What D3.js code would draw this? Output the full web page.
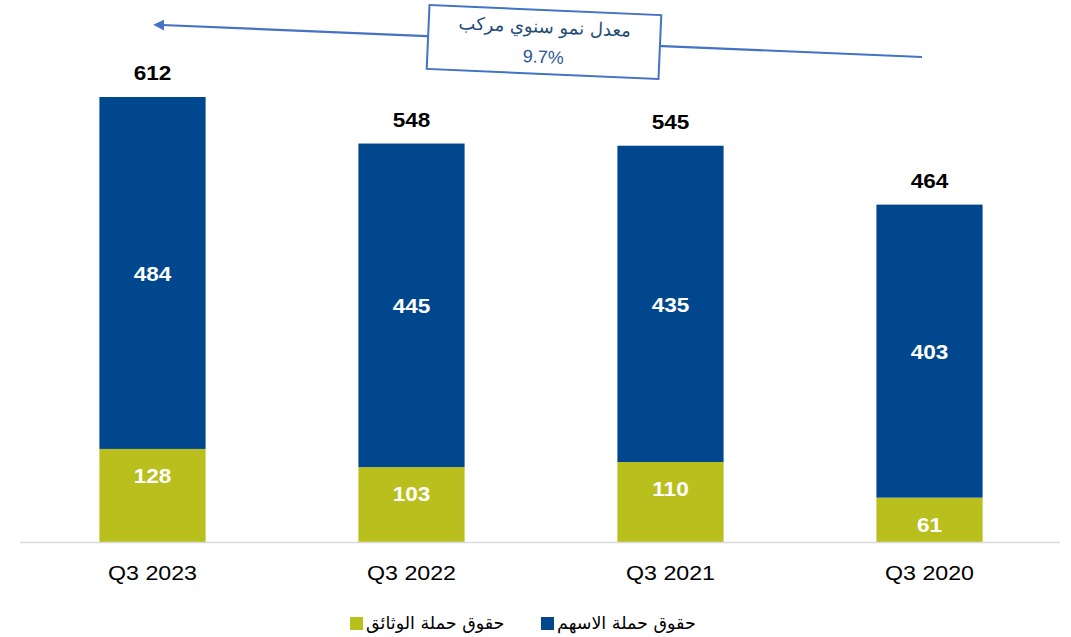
<!DOCTYPE html>
<html lang="ar">
<head>
<meta charset="utf-8">
<style>
html, body {
    margin: 0;
    padding: 0;
    background: #fff;
}
svg {
    width: 1071px;
    height: 637px;
    display: block;
}
</style>
</head>
<body>
<svg></svg>

<script src="https://cdn.jsdelivr.net/npm/d3@7/dist/d3.min.js"></script>
<script>
// stacked bars, quarters shown newest on the left
var quarters = ["Q3 2023", "Q3 2022", "Q3 2021", "Q3 2020"];
var policyholders = [128, 103, 110, 61];
var shareholders = [484, 445, 435, 403];
var totals = [612, 548, 545, 464];
var seriesNames = ["حقوق حملة الاسهم", "حقوق حملة الوثائق"];
var cagrTitle = "معدل نمو سنوي مركب";
var cagrValue = "9.7%";

var blue = "#00478d";
var green = "#b9c01e";

var svg = d3.select("svg");
var width = 1071;
var height = 637;
var baseY = 542;

var x = d3.scaleBand()
    .domain(quarters)
    .range([23, 1059])
    .paddingInner(0.59)
    .paddingOuter(0.295);

var y = d3.scaleLinear()
    .domain([0, 612])
    .range([baseY, 97]);

var rows = quarters.map(function(q, i) {
    return {q: q, p: policyholders[i], s: shareholders[i], t: totals[i]};
});

// the source picture is a bit stretched sideways, so the numbers are too
var sx = 1.13;
function cx(d) { return x(d.q) + x.bandwidth() / 2 }

// policyholders segment
svg.selectAll("rect.pol")
    .data(rows)
    .enter().append("rect")
    .attr("class", "pol")
    .attr("x", function(d){ return x(d.q) })
    .attr("width", x.bandwidth())
    .attr("y", function(d){ return y(d.p) })
    .attr("height", function(d){ return y(0) - y(d.p) })
    .attr("fill", green);

// shareholders segment
svg.selectAll("rect.sh")
    .data(rows)
    .enter().append("rect")
    .attr("class", "sh")
    .attr("x", function(d){ return x(d.q) })
    .attr("width", x.bandwidth())
    .attr("y", function(d){ return y(d.p + d.s) })
    .attr("height", function(d){ return y(d.p) - y(d.p + d.s) })
    .attr("fill", blue);

// axis line
svg.append("line")
    .attr("x1", 20).attr("x2", 1060)
    .attr("y1", baseY + 0.5).attr("y2", baseY + 0.5)
    .attr("stroke", "#d9d9d9")
    .attr("stroke-width", 1.5);

var xAxis = svg.append("g")
    .attr("transform", "translate(0," + baseY + ")")
    .call(d3.axisBottom(x).tickSize(0).tickPadding(24));
xAxis.select(".domain").remove();
xAxis.selectAll("text")
    .attr("font-family", "Liberation Sans, Arial, sans-serif")
    .attr("font-size", 20)
    .attr("fill", "#000")
    .attr("transform", "scale(1.16,1)");

// labels
function numLabel(cls, fy, fill, val) {
    svg.selectAll("text." + cls)
        .data(rows)
        .enter().append("text")
        .attr("class", cls)
        .attr("transform", function(d){ return "translate(" + cx(d) + "," + fy(d) + ") scale(" + sx + ",1)" })
        .attr("text-anchor", "middle")
        .attr("font-family", "Liberation Sans, Arial, sans-serif")
        .attr("font-weight", "bold")
        .attr("font-size", 20)
        .attr("fill", fill)
        .text(val);
}
numLabel("pl", function(d){ return y(d.p) + 34 }, "#fff", function(d){ return d.p });
numLabel("sl", function(d){ return (y(d.p) + y(d.p + d.s)) / 2 + 8 }, "#fff", function(d){ return d.s });
numLabel("tl", function(d){ return y(d.t) - 17 }, "#000", function(d){ return d.t });

// CAGR arrow
var defs = svg.append("defs");
defs.append("marker")
    .attr("id", "head")
    .attr("viewBox", "0 0 10 10")
    .attr("refX", 2).attr("refY", 5)
    .attr("markerWidth", 5).attr("markerHeight", 5)
    .attr("orient", "auto")
    .append("path")
    .attr("d", "M0,0 L10,5 L0,10 z")
    .attr("fill", "#4472c4");

svg.append("line")
    .attr("x1", 922).attr("y1", 57)
    .attr("x2", 162).attr("y2", 25)
    .attr("stroke", "#4472c4")
    .attr("stroke-width", 2.2)
    .attr("marker-end", "url(#head)");

var box = svg.append("g")
    .attr("transform", "translate(544,42) rotate(2.5)");
box.append("rect")
    .attr("x", -116).attr("y", -32)
    .attr("width", 232).attr("height", 64)
    .attr("fill", "#fff")
    .attr("stroke", "#4472c4")
    .attr("stroke-width", 2);
box.append("text")
    .attr("x", 0).attr("y", -9)
    .attr("text-anchor", "middle")
    .attr("font-family", "DejaVu Sans, sans-serif")
    .attr("font-size", 18)
    .attr("fill", "#1f4e79")
    .text(cagrTitle);
box.append("text")
    .attr("x", 0).attr("y", 21)
    .attr("text-anchor", "middle")
    .attr("font-family", "Liberation Sans, Arial, sans-serif")
    .attr("font-size", 18)
    .attr("fill", "#2f5597")
    .text(cagrValue);

// legend
var legendItems = [
    {name: seriesNames[0], color: blue, x: 541},
    {name: seriesNames[1], color: green, x: 350}
];
var lg = svg.selectAll("g.lg")
    .data(legendItems)
    .enter().append("g")
    .attr("transform", function(d){ return "translate(" + d.x + ",617)" });
lg.append("rect")
    .attr("width", 13).attr("height", 13)
    .attr("fill", function(d){ return d.color });
lg.append("text")
    .attr("x", 16).attr("y", 12)
    .attr("direction", "rtl")
    .attr("text-anchor", "end")
    .attr("font-family", "DejaVu Sans, sans-serif")
    .attr("font-size", 17.5)
    .attr("fill", "#000")
    .text(function(d){ return d.name });
</script>
</body>
</html>
